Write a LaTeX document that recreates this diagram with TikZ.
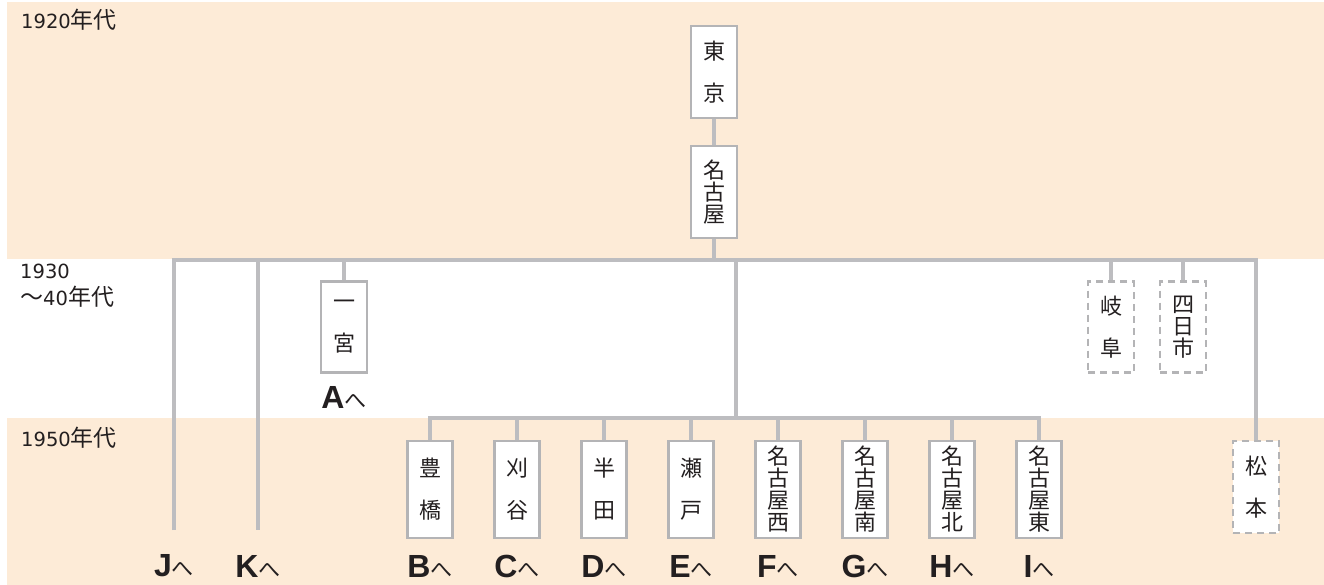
\documentclass[tikz,border=0pt]{standalone}
\usepackage{fontspec}
\setmainfont{Noto Sans CJK JP}
\newfontfamily\lb{Liberation Sans}
\newfontfamily\dg{DejaVu Sans}
\usetikzlibrary{backgrounds}
\definecolor{peach}{HTML}{FDEBD7}
\definecolor{lgray}{HTML}{BDBDC0}
\definecolor{bgray}{HTML}{B4B4B6}
\definecolor{ink}{HTML}{231F20}
\tikzset{
  conn/.style={draw=lgray, line width=3.2pt},
  stn/.style={draw=bgray, line width=2.6pt, fill=white, inner sep=0pt, align=center,
    text=ink, font=\fontsize{22}{22}\selectfont},
  top/.style={stn, minimum width=46pt, minimum height=92pt},
  low/.style={stn, minimum width=45pt, minimum height=97pt},
  plan/.style={stn, dash pattern=on 7pt off 5pt, line width=2.4pt, minimum width=46pt, minimum height=91pt},
  era/.style={anchor=base west, inner sep=0pt, text=ink, font=\fontsize{23}{27}\selectfont, align=left},
  dest/.style={inner sep=0pt, text=ink},
}
\newcommand{\dst}[1]{{\lb\bfseries\fontsize{32}{32}\selectfont #1}{\fontsize{22}{22}\selectfont へ}}
\newcommand{\yr}[1]{{\dg\fontsize{19.5}{27}\selectfont #1}}
\begin{document}
\begin{tikzpicture}[x=1pt,y=-1pt]
\useasboundingbox (0,0) rectangle (1324,585);
% era labels
\node[era] (e1) at (21,29) {\yr{1920}年代};
\node[era, anchor=north west] (e2) at (20,264) {\yr{1930}\\〜\yr{40}年代};
\node[era] (e3) at (21,446) {\yr{1950}年代};
% top stations
\node[top] (tokyo) at (714,72) {東\\[20pt]京};
\node[top] (nagoya) at (714,192) {名\\古\\屋};
\node[top, minimum height=91pt] (ichi) at (344,327) {一\\[20pt]宮};
\node[plan] (gifu) at (1111,327) {岐\\[20pt]阜};
\node[plan] (yokka) at (1183,327) {四\\日\\市};
\node[plan, minimum height=92pt] (matsu) at (1256,487) {松\\[20pt]本};
% bottom stations
\node[low] (toyo) at (430,489.5) {豊\\[20pt]橋};
\node[low] (kari) at (517,489.5) {刈\\[20pt]谷};
\node[low] (han) at (604,489.5) {半\\[20pt]田};
\node[low] (seto) at (691,489.5) {瀬\\[20pt]戸};
\node[low] (nw) at (778,489.5) {名\\古\\屋\\西};
\node[low] (ns) at (865,489.5) {名\\古\\屋\\南};
\node[low] (nn) at (952,489.5) {名\\古\\屋\\北};
\node[low] (ne) at (1039,489.5) {名\\古\\屋\\東};
% destinations
\node[dest] (la) at (344,397) {\dst{A}};
\node[dest] (lj) at (174,566) {\dst{J}};
\node[dest] (lk) at (258,566) {\dst{K}};
\node[dest] (lb) at (430,566) {\dst{B}};
\node[dest] (lc) at (517,566) {\dst{C}};
\node[dest] (ld) at (604,566) {\dst{D}};
\node[dest] (le) at (691,566) {\dst{E}};
\node[dest] (lf) at (778,566) {\dst{F}};
\node[dest] (lg) at (865,566) {\dst{G}};
\node[dest] (lh) at (952,566) {\dst{H}};
\node[dest] (li) at (1039,566) {\dst{I}};
% coordinates
\coordinate (bus) at (714,260);
\coordinate (jtop) at (174,260);
\coordinate (jend) at (174,530);
\coordinate (ktop) at (258,260);
\coordinate (kend) at (258,530);
\coordinate (mtop) at (1256,260);
\coordinate (ctop) at (736,260);
\coordinate (sub) at (736,418);
% connectors and bands
\begin{scope}[on background layer]
\fill[peach] (7,2) rectangle (1324,259);
\fill[peach] (7,418) rectangle (1324,585);
\draw[conn] (tokyo.south) -- (nagoya.north);
\draw[conn] (nagoya.south) -- (bus);
\draw[conn] (jend) -- (jtop) -- (mtop) -- (matsu.north);
\draw[conn] (ktop) -- (kend);
\draw[conn] (ichi.north |- jtop) -- (ichi.north);
\draw[conn] (gifu.north |- jtop) -- (gifu.north);
\draw[conn] (yokka.north |- jtop) -- (yokka.north);
\draw[conn] (ctop) -- (sub);
\draw[conn] (toyo.north) -- (toyo.north |- sub) -- (ne.north |- sub) -- (ne.north);
\foreach \n in {kari,han,seto,nw,ns,nn}{\draw[conn] (\n.north |- sub) -- (\n.north);}
\end{scope}
\end{tikzpicture}
\end{document}
